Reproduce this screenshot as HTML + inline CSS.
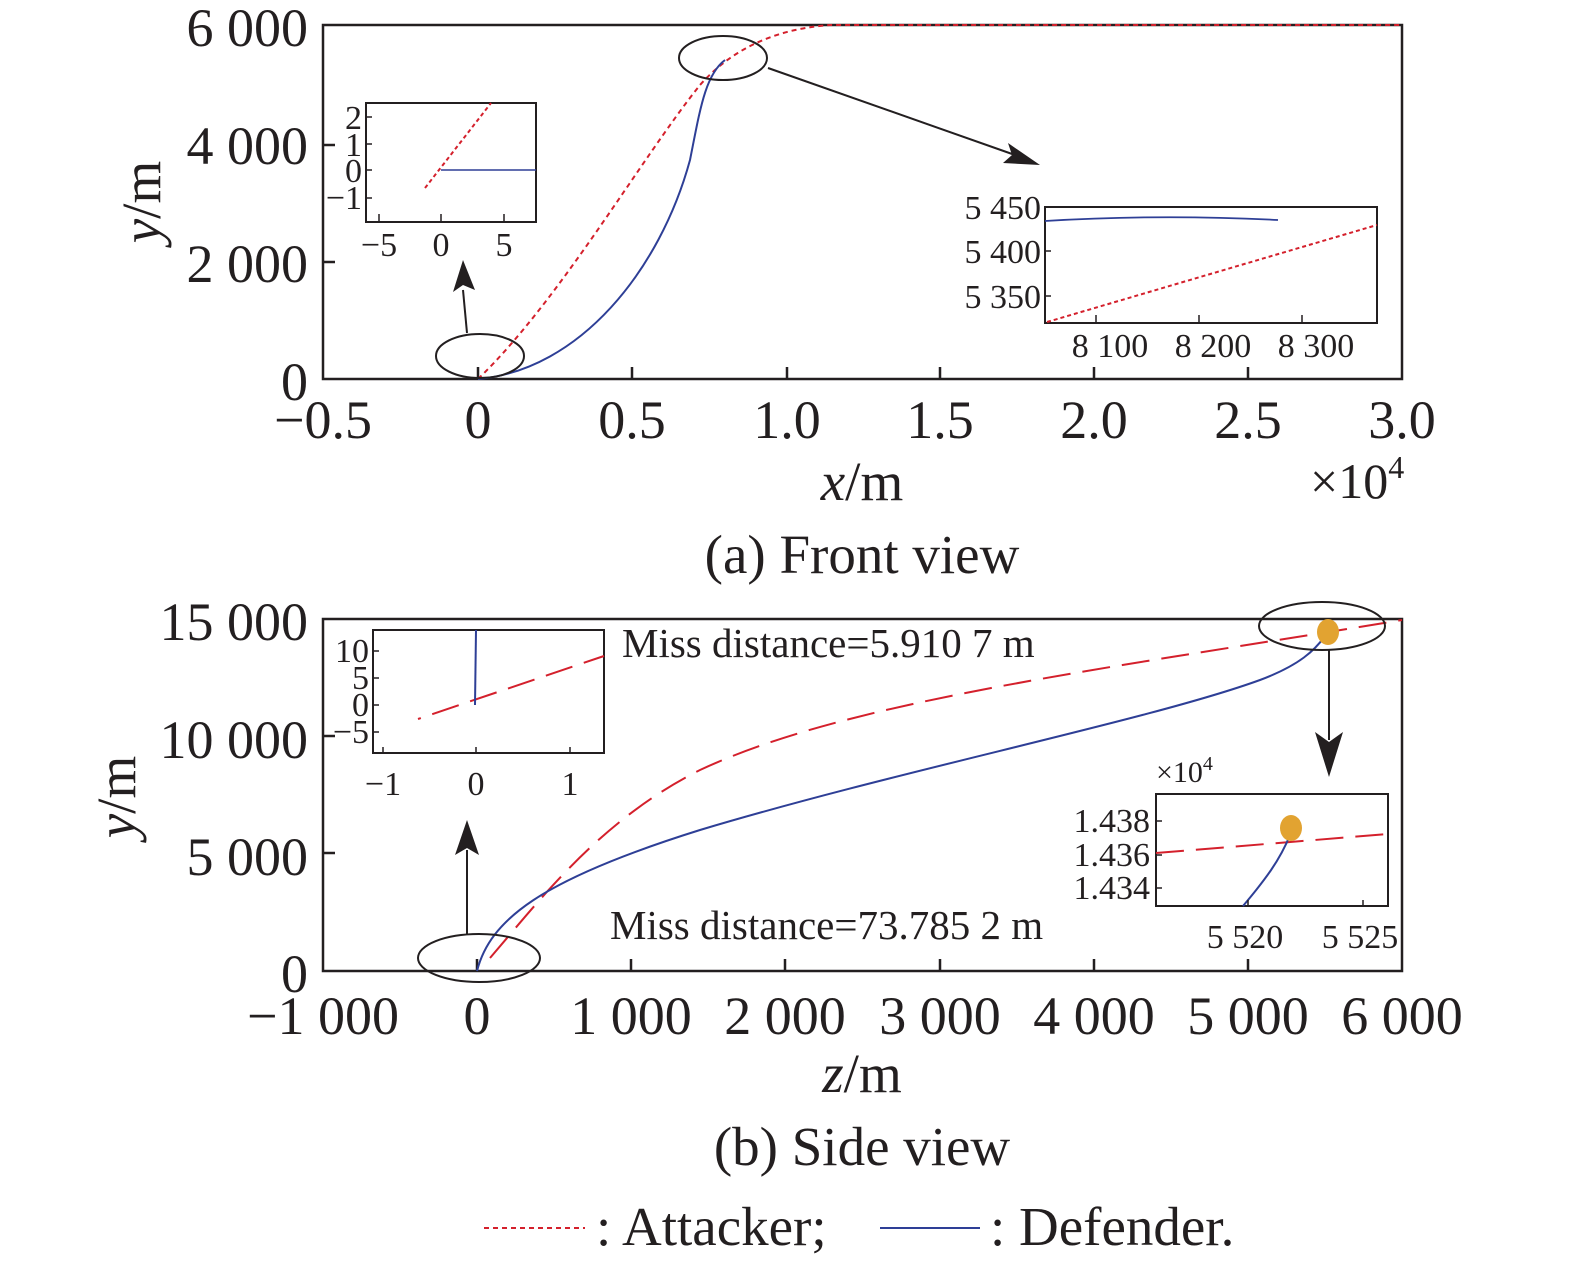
<!DOCTYPE html>
<html><head><meta charset="utf-8"><style>body{margin:0;background:#fff}svg{display:block}text{font-family:"Liberation Serif",serif;fill:#231f20}</style></head><body>
<svg width="1575" height="1266" viewBox="0 0 1575 1266" xmlns="http://www.w3.org/2000/svg">
<g fill="none" stroke="#231f20" stroke-width="2.5">
<rect x="323" y="25" width="1079" height="354"/>
<rect x="323" y="619" width="1079" height="352"/>
</g>
<g stroke="#231f20" stroke-width="2.5">
<path d="M478 379v-12M632 379v-12M787 379v-12M940 379v-12M1094 379v-12M1248 379v-12M323 262h12M323 145h12"/>
<path d="M477 971v-12M631 971v-12M785 971v-12M940 971v-12M1094 971v-12M1248 971v-12M323 853h12M323 736h12"/>
</g>
<g font-size="54" text-anchor="end">
<text x="308" y="46">6 000</text><text x="308" y="164">4 000</text><text x="308" y="282">2 000</text><text x="308" y="400">0</text>
<text x="308" y="640">15 000</text><text x="308" y="758">10 000</text><text x="308" y="875">5 000</text><text x="308" y="992">0</text>
</g>
<g font-size="54" text-anchor="middle">
<text x="323" y="438">−0.5</text><text x="478" y="438">0</text><text x="632" y="438">0.5</text><text x="787" y="438">1.0</text><text x="940" y="438">1.5</text><text x="1094" y="438">2.0</text><text x="1248" y="438">2.5</text><text x="1402" y="438">3.0</text>
<text x="323" y="1034">−1 000</text><text x="477" y="1034">0</text><text x="631" y="1034">1 000</text><text x="785" y="1034">2 000</text><text x="940" y="1034">3 000</text><text x="1094" y="1034">4 000</text><text x="1248" y="1034">5 000</text><text x="1402" y="1034">6 000</text>
</g>
<g font-size="55" text-anchor="middle">
<text x="862" y="500"><tspan font-style="italic">x</tspan>/m</text>
<text x="862" y="1092"><tspan font-style="italic">z</tspan>/m</text>
<text x="862" y="573">(a) Front view</text>
<text x="862" y="1165">(b) Side view</text>
</g>
<text x="1310" y="498" font-size="50">×10<tspan font-size="32" dy="-20">4</tspan></text>
<text transform="translate(160,202) rotate(-90)" font-size="55" text-anchor="middle"><tspan font-style="italic">y</tspan>/m</text>
<text transform="translate(135,797) rotate(-90)" font-size="55" text-anchor="middle"><tspan font-style="italic">y</tspan>/m</text>
<path d="M478 379 C560 300 640 160 700 85 C740 40 790 28 830 25 L1402 25" fill="none" stroke="#d4202c" stroke-width="2" stroke-dasharray="5,4"/>
<path d="M478 379 C580 370 660 270 690 160 C700 110 705 75 725 60" fill="none" stroke="#2e3f96" stroke-width="2"/>
<ellipse cx="480" cy="356" rx="44" ry="22" fill="none" stroke="#231f20" stroke-width="2"/>
<ellipse cx="723" cy="58" rx="44" ry="22" fill="none" stroke="#231f20" stroke-width="2"/>
<path d="M467 333 L463 290" stroke="#231f20" stroke-width="2"/><path d="M463 260 L453 292 L463 285 L475 290 Z" fill="#231f20"/>
<path d="M768 68 L1015 155" stroke="#231f20" stroke-width="2"/><path d="M1040 165 L1008 143 L1012 155 L1003 163 Z" fill="#231f20"/>
<rect x="366" y="103" width="170" height="119" fill="#fff" stroke="#231f20" stroke-width="2"/>
<path d="M379 222v-8M441 222v-8M504 222v-8M366 117h6M366 144h6M366 170h6M366 198h6" stroke="#231f20" stroke-width="1.5"/>
<path d="M425 188 L491 103" stroke="#d4202c" stroke-width="2" stroke-dasharray="4,3"/>
<path d="M441 170 L536 170" stroke="#2e3f96" stroke-width="1.5"/>
<g font-size="34" text-anchor="end"><text x="362" y="129">2</text><text x="362" y="156">1</text><text x="362" y="182">0</text><text x="362" y="209">−1</text></g>
<g font-size="34" text-anchor="middle"><text x="379" y="256">−5</text><text x="441" y="256">0</text><text x="504" y="256">5</text></g>
<rect x="1045" y="207" width="332" height="116" fill="#fff" stroke="#231f20" stroke-width="2"/>
<path d="M1045 221 Q1160 214 1278 220" fill="none" stroke="#2e3f96" stroke-width="1.8"/>
<path d="M1047 322 L1377 225" stroke="#d4202c" stroke-width="2" stroke-dasharray="4,3"/>
<path d="M1096 323v-8M1199 323v-8M1302 323v-8M1045 251h6M1045 296h6" stroke="#231f20" stroke-width="1.5"/>
<g font-size="34" text-anchor="end"><text x="1041" y="219">5 450</text><text x="1041" y="263">5 400</text><text x="1041" y="308">5 350</text></g>
<g font-size="34" text-anchor="middle"><text x="1110" y="357">8 100</text><text x="1213" y="357">8 200</text><text x="1316" y="357">8 300</text></g>
<path d="M490 958 C540 900 600 820 700 770 C850 700 1100 670 1402 620" fill="none" stroke="#d4202c" stroke-width="2" stroke-dasharray="28,12"/>
<path d="M477 971 C490 920 540 880 700 830 C900 770 1150 720 1260 680 C1300 665 1315 650 1325 636" fill="none" stroke="#2e3f96" stroke-width="2"/>
<ellipse cx="1328" cy="632" rx="11" ry="13" fill="#e2a331"/>
<ellipse cx="479" cy="958" rx="61" ry="24" fill="none" stroke="#231f20" stroke-width="2"/>
<ellipse cx="1322" cy="626" rx="63" ry="24" fill="none" stroke="#231f20" stroke-width="2"/>
<path d="M467 934 L467 850" stroke="#231f20" stroke-width="2"/><path d="M467 820 L455 855 L467 848 L479 855 Z" fill="#231f20"/>
<path d="M1329 650 L1329 740" stroke="#231f20" stroke-width="2"/><path d="M1329 777 L1315 732 L1329 742 L1343 732 Z" fill="#231f20"/>
<text x="622" y="657" font-size="41">Miss distance=5.910 7 m</text>
<text x="610" y="939" font-size="41">Miss distance=73.785 2 m</text>
<rect x="373" y="630" width="231" height="123" fill="#fff" stroke="#231f20" stroke-width="2"/>
<path d="M383 753v-6M476 753v-6M570 753v-6M373 651h6M373 678h6M373 705h6M373 732h6" stroke="#231f20" stroke-width="1.5"/>
<path d="M418 719 L604 656" stroke="#d4202c" stroke-width="2" stroke-dasharray="28,12" stroke-dashoffset="25"/>
<path d="M475 705 L476 630" stroke="#2e3f96" stroke-width="2"/>
<g font-size="34" text-anchor="end"><text x="369" y="662">10</text><text x="369" y="689">5</text><text x="369" y="716">0</text><text x="369" y="743">−5</text></g>
<g font-size="34" text-anchor="middle"><text x="383" y="795">−1</text><text x="476" y="795">0</text><text x="570" y="795">1</text></g>
<rect x="1156" y="794" width="232" height="112" fill="#fff" stroke="#231f20" stroke-width="2"/>
<path d="M1156 853 L1388 834" stroke="#d4202c" stroke-width="2" stroke-dasharray="28,12"/>
<path d="M1243 906 C1265 880 1280 860 1290 835" fill="none" stroke="#2e3f96" stroke-width="2"/>
<ellipse cx="1291" cy="828" rx="11" ry="13" fill="#e2a331"/>
<path d="M1248 906v-6M1363 906v-6M1156 821h6M1156 855h6M1156 888h6" stroke="#231f20" stroke-width="1.5"/>
<text x="1156" y="782" font-size="30">×10<tspan font-size="20" dy="-12">4</tspan></text>
<g font-size="34" text-anchor="end"><text x="1150" y="832">1.438</text><text x="1150" y="866">1.436</text><text x="1150" y="899">1.434</text></g>
<g font-size="34" text-anchor="middle"><text x="1245" y="948">5 520</text><text x="1360" y="948">5 525</text></g>
<path d="M484 1228 H585" stroke="#d4202c" stroke-width="2" stroke-dasharray="5,4"/>
<text x="596" y="1245" font-size="55">: Attacker;</text>
<path d="M880 1228 H980" stroke="#2e3f96" stroke-width="2"/>
<text x="990" y="1245" font-size="55">: Defender.</text>
</svg>
</body></html>
